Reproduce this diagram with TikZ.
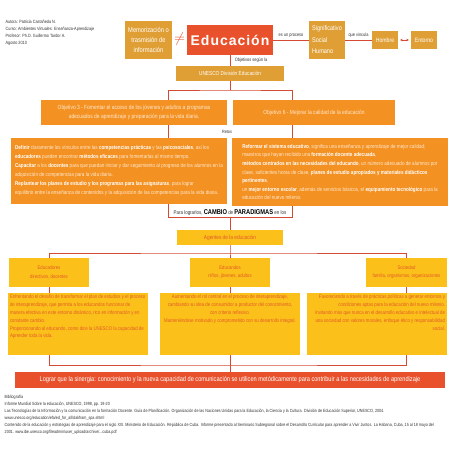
\documentclass[tikz,border=0pt]{standalone}
\usepackage{fontspec}
\setmainfont{Liberation Sans}[FakeStretch=0.82]
\newfontfamily\widefont{Liberation Sans}[LetterSpace=7]
\usetikzlibrary{arrows.meta}
\definecolor{ocre}{HTML}{DF9F35}
\definecolor{rojo}{HTML}{E8512B}
\definecolor{naranja}{HTML}{F39122}
\definecolor{amarillo}{HTML}{FBC01A}
\definecolor{linea}{HTML}{D54A33}
\definecolor{txtam}{HTML}{E45A28}
\definecolor{txtcla}{HTML}{FFE8CC}
\newcommand{\tsize}[2]{\fontsize{#1}{#2}\selectfont}
\newcommand{\bb}[1]{\textbf{\textcolor{white}{#1}}}

\begin{document}
\begin{tikzpicture}[x=1pt, y=-1pt, >=Stealth,
  link/.style={draw=linea, line width=0.8pt},
  plain/.style={inner sep=0.5pt, text=black!80},
  ocrebox/.style={fill=ocre, text=white, align=center, inner sep=0pt},
  redbox/.style={fill=rojo, text=white, align=center, inner sep=0pt},
  orbox/.style={fill=naranja, text=txtcla, inner sep=0pt},
  ambox/.style={fill=amarillo, text=txtam, align=center, inner sep=0pt}]
\useasboundingbox[fill=white] (0,0) rectangle (453,453);

\node[plain, anchor=north west, align=left, font=\tsize{4.6}{7.3}] (autor) at (5,19) {Autora: Patricia Castañeda N.\\Curso: Ambientes Virtuales: Enseñanza-Aprendizaje\\Profesor: Ph.D. Guillermo Tardor A.\\Agosto 2010};

\node[ocrebox, minimum width=47pt, minimum height=38pt, font=\tsize{7}{10}] (mem) at (148.5,40) {Memorización o\\trasmisión de\\información};
\node[text=rojo, inner sep=0pt, font=\tsize{14}{14}] (neq) at (179.5,39) {$\neq$};
\node[redbox, minimum width=86pt, minimum height=30pt, font=\widefont\bfseries\tsize{14}{14}] (edu) at (230,40) {Educación};
\node[ocrebox, align=left, minimum width=36pt, minimum height=38pt, font=\tsize{6.8}{11.5}] (sig) at (327,40) {Significativo\\Social\\Humano};
\node[ocrebox, minimum width=26pt, minimum height=18pt, font=\tsize{6.3}{7}] (hom) at (385,40) {Hombre};
\node[ocrebox, minimum width=26pt, minimum height=18pt, font=\tsize{6.3}{7}] (ent) at (424,40) {Entorno};
\draw[link] (edu) -- node[plain, above=1.5pt, font=\tsize{4.8}{5}] {es un proceso} (sig);
\draw[link] (sig) -- node[plain, above=1.5pt, font=\tsize{4.8}{5}] {que vincula} (hom);
\draw[link, {Stealth[length=2.5pt,width=2.5pt]}-{Stealth[length=2.5pt,width=2.5pt]}, shorten <=2pt, shorten >=2pt] (hom) -- (ent);

\node[ocrebox, minimum width=108pt, minimum height=15pt, font=\tsize{5.8}{6}] (unesco) at (230,73.5) {UNESCO División Educación};
\draw[link] (edu) -- node[plain, right=4pt, font=\tsize{4.8}{5}] {Objetivos según la} (unesco);

\node[orbox, align=center, minimum width=186pt, minimum height=25pt, font=\tsize{6}{8.5}] (obj3) at (134,112.5) {Objetivo 3 - Fomentar el acceso de los jóvenes y adultos a programas\\adecuados de aprendizaje y preparación para la vida diaria.};
\node[orbox, align=center, minimum width=162pt, minimum height=25pt, font=\tsize{6}{8.5}] (obj6) at (314,112.5) {Objetivo 6 - Mejorar la calidad de la educación};
\coordinate (fork1) at (230,90);
\coordinate (colL) at (168,0);
\coordinate (colR) at (292.5,0);
\draw[link] (unesco) -- (fork1);
\draw[link] (obj3.north -| colL) |- (fork1) -| (obj6.north -| colR);

\node[plain, inner sep=1.5pt, font=\tsize{5.4}{7}] (cambio) at (230,212.5) {Para lograrlos, {\bfseries\color{black}\tsize{7}{7}CAMBIO} de {\bfseries\color{black}\tsize{7}{7}PARADIGMAS} en los};
\draw[link] (obj3.south -| colL) |- (cambio.south) -| (obj6.south -| colR);
\node[plain, font=\tsize{4.6}{5}] (retos) at (227,132) {Retos};

\node[orbox, align=left, minimum width=216pt, minimum height=66pt, font=\tsize{5.6}{9}] (retoL) at (119,171) {\bb{Definir} claramente los vínculos entre las \bb{competencias prácticas} y las \bb{psicosociales}, así los\\\bb{educadores} pueden encontrar \bb{métodos eficaces} para fomentarlas al mismo tiempo.\\\bb{Capacitar} a los \bb{docentes} para que puedan iniciar y dar seguimiento al progreso de los alumnos en la\\adquisición de competencias para la vida diaria.\\\bb{Replantear los planes de estudio y los programas para las asignaturas}, para lograr\\equilibrio entre la enseñanza de contenidos y la adquisición de las competencias para la vida diaria.};
\node[orbox, align=left, minimum width=216pt, minimum height=68pt, font=\tsize{5.6}{8.6}] (retoR) at (340,172) {\bb{Reformar el sistema educativo}, significa una enseñanza y aprendizaje de mejor calidad;\\maestros que hayan recibido una \bb{formación docente adecuada},\\\bb{métodos centrados en las necesidades del educando}, un número adecuado de alumnos por\\clase, suficientes horas de clase, \bb{planes de estudio apropiados y materiales didácticos}\\\bb{pertinentes},\\un \bb{mejor entorno escolar}, además de servicios básicos, el \bb{equipamiento tecnológico} para la\\educación del nuevo milenio.};

\node[ambox, minimum width=106pt, minimum height=15pt, font=\tsize{5.8}{6}] (agentes) at (230,237.5) {Agentes de la educación};
\draw[link] (cambio) -- (agentes);
\coordinate (fork2) at (230,253);
\node[ambox, minimum width=80pt, minimum height=29pt, font=\tsize{5.2}{8.3}] (educadores) at (49,272.5) {Educadores\\directivos, docentes};
\node[ambox, minimum width=80pt, minimum height=29pt, font=\tsize{5.2}{8.3}] (educandos) at (230,272.5) {Educandos\\niños, jóvenes, adultos};
\node[ambox, minimum width=81pt, minimum height=29pt, font=\tsize{5.2}{8.3}] (sociedad) at (406.5,272.5) {Sociedad\\familia, organismos, organizaciones};
\draw[link] (agentes) -- (fork2) -- (educandos);
\draw[link] (educadores) |- (fork2) -| (sociedad);

\node[ambox, inner sep=2pt, font=\tsize{5.3}{7.8}] (det1) at (78,324) {\parbox[c][58pt][t]{136pt}{\raggedright Enfrentando el desafío de transformar el plan de estudios y el proceso\\de interaprendizaje, que permita a los educandos funcionar de\\manera efectiva en este entorno dinámico, rico en información y en\\constante cambio.\\Proporcionando al educando, como dice la UNESCO la capacidad de\\Aprender toda la vida.}};
\node[ambox, inner sep=2pt, font=\tsize{5.3}{7.8}] (det2) at (230,324) {\parbox[c][58pt][t]{136pt}{\centering Aumentando el rol central en el proceso de interaprendizaje,\\cambiando su idea de consumidor a productor del conocimiento,\\con criterio reflexivo.\\Manteniéndose motivado y comprometido con su desarrollo integral.}};
\node[ambox, inner sep=2pt, font=\tsize{5.3}{7.8}] (det3) at (377,324) {\parbox[c][58pt][t]{136pt}{\raggedleft Favoreciendo a través de prácticas políticas a generar entornos y\\condiciones aptas para la educación del nuevo milenio.\\Invitando más que nunca en el desarrollo educativo e intelectual de\\una sociedad con valores morales, enfoque ético y responsabilidad\\social.}};
\draw[link] (educadores) -- (educadores |- det1.north);
\draw[link] (educandos) -- (det2);
\draw[link] (sociedad) -- (sociedad |- det3.north);

\node[redbox, minimum width=430pt, minimum height=16pt, font=\tsize{6.9}{7}] (logro) at (230,380) {Lograr que la sinergia: conocimiento y la nueva capacidad de comunicación se utilicen metódicamente para contribuir a las necesidades de aprendizaje};
\coordinate (fork3) at (230,365);
\draw[link] (det1.south -| educadores) |- (fork3) -| (det3.south -| sociedad);
\draw[link] (det2) -- (logro);

\node[plain, anchor=north west, align=left, font=\tsize{4.5}{7.1}] (biblio) at (4,394) {Bibliografía\\Informe Mundial Sobre la educación, UNESCO, 1998, pp. 19-20\\Las Tecnologías de la Información y la comunicación en la formación Docente. Guía de Planificación. Organización de las Naciones Unidas para la Educación, la Ciencia y la Cultura. División de Educación Superior, UNESCO, 2004.\\www.unesco.org/education/efa/ed\_for\_all/dakfram\_spa.shtml\\Contenido de la educación y estrategias de aprendizaje para el siglo XXI. Ministerio de Educación. República de Cuba. Informe presentado al Seminario Subregional sobre el Desarrollo Curricular para aprender a Vivir Juntos. La Habana, Cuba, 15 al 18 mayo del\\2001. www.ibe.unesco.org/fileadmin/user\_upload/archive/...cuba.pdf};
\end{tikzpicture}
\end{document}
